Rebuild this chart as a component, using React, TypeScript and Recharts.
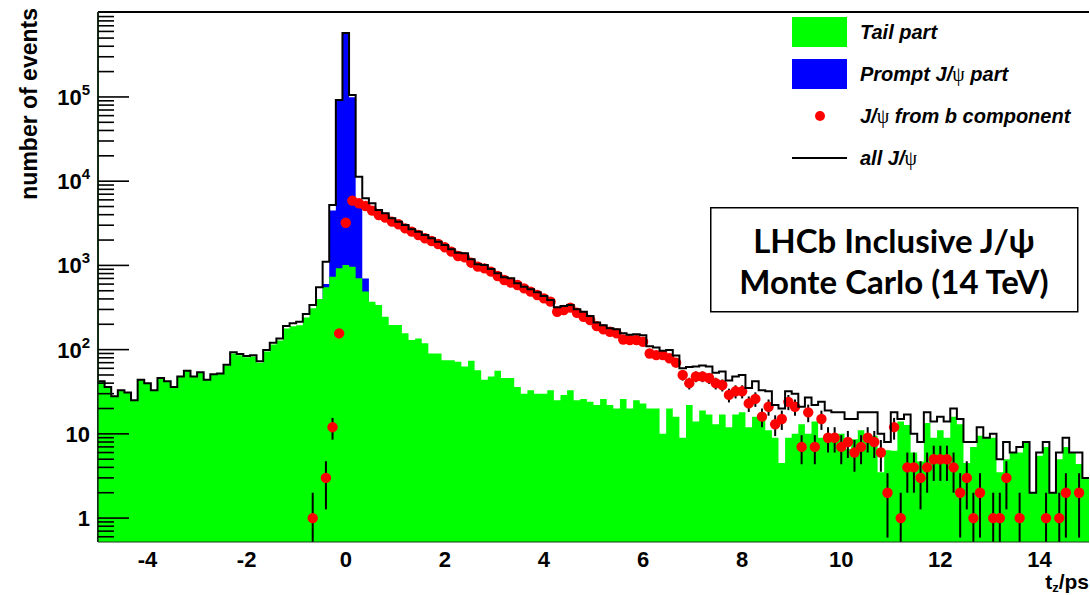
import React from "react";
import {
  Area,
  ComposedChart,
  ErrorBar,
  Label,
  Legend,
  Line,
  ReferenceLine,
  Scatter,
  XAxis,
  YAxis,
} from "recharts";

// histogram: 150 bins of t_z between -5 and 15 ps
const T_MIN = -5;
const T_MAX = 15;
const BIN_W = (T_MAX - T_MIN) / 150;
const Y_MIN = 0.52;
const Y_MAX = 1.02e6;

// "all J/psi" (black outline), one value per bin
const ALL = [
  42, 36, 28, 33, 31, 25, 44, 40, 33, 46,
  42, 36, 48, 56, 48, 54, 44, 51, 52, 66,
  93, 89, 84, 86, 73, 99, 121, 136, 191, 205,
  214, 265, 339, 552, 1105, 5210, 92000, 573000, 105800, 11300,
  6270, 5460, 4550, 4155, 3620, 3305, 3020, 2683, 2517, 2297,
  2099, 1914, 1747, 1552, 1416, 1390, 1181, 1030, 1011, 906,
  806, 722, 702, 612, 559, 520, 479, 433, 388, 318,
  329, 339, 301, 282, 250, 210, 195, 180, 175, 157,
  150, 152, 148, 110, 106, 97, 99, 85, 60, 62,
  63, 65, 63, 53, 55, 43, 48, 50, 35, 42,
  33, 32, 22, 20, 32, 30, 21, 27, 22, 24,
  19, 18, 18, 15, 15, 18, 18, 18, 10, 8,
  18, 15, 17, 10, 8, 18, 14, 16, 14, 20,
  15, 8, 8, 12, 9, 10, 5, 8, 6, 7,
  8, 2, 6, 8, 2, 6, 9, 6, 6, 3,
];

// "Tail part" (green fill)
const TAIL = [
  42, 36, 28, 33, 31, 25, 44, 40, 33, 46,
  42, 36, 48, 56, 48, 54, 44, 51, 52, 65,
  90, 86, 81, 83, 70, 95, 115, 128, 178, 190,
  195, 240, 310, 400, 550, 734, 923, 1010, 965, 703,
  490, 371, 339, 246, 196, 196, 156, 130, 136, 119,
  90, 90, 75, 75, 72, 63, 74, 57, 44, 48,
  56, 46, 46, 36, 30, 33, 30, 30, 33, 25,
  29, 33, 25, 26, 24, 22, 26, 22, 20, 26,
  20, 25, 23, 20, 20, 10, 20, 16, 9, 22,
  14, 19, 17, 13, 17, 12, 17, 18, 12, 16,
  16, 11, 9, 4.5, 9, 10, 13, 10, 14, 9,
  10, 8.5, 10, 6.6, 8.6, 11, 8.5, 9.5, 3.5, 6.4,
  6.3, 14, 12.7, 6, 4.7, 13.5, 9, 11, 9, 16,
  13, 4.5, 7, 9.5, 9, 9, 3.5, 5, 6, 6,
  8, 2, 5.5, 7, 2, 5, 7, 6, 4.4, 3,
];

// "Prompt J/psi part" (blue fill), only the bins around the peak
const PROMPT_FIRST_BIN = 30;
const PROMPT = [19, 25, 29, 150, 600, 4500, 91000, 572000, 99000, 5900, 700, 300];

// "J/psi from b component" (red points), 0 = empty bin
const B_COMPONENT = [
  0, 0, 0, 0, 0, 0, 0, 0, 0, 0,
  0, 0, 0, 0, 0, 0, 0, 0, 0, 0,
  0, 0, 0, 0, 0, 0, 0, 0, 0, 0,
  0, 0, 1, 0, 3, 12, 156, 3210, 5870, 5460,
  5075, 4465, 3970, 3690, 3305, 3075, 2755, 2517, 2297, 2099,
  1950, 1795, 1640, 1456, 1294, 1247, 1077, 966, 923, 843,
  748, 671, 624, 585, 534, 488, 445, 406, 371, 282,
  295, 315, 274, 246, 225, 190, 174, 163, 156, 132,
  130, 130, 124, 90, 86, 86, 79, 70, 50, 40,
  48, 48, 46, 40, 38, 29, 32, 32, 23, 26,
  16, 21, 13, 15, 24, 21, 7, 18, 7, 15,
  9, 9, 7, 8, 6, 7, 9, 8, 6, 2,
  12, 1, 4, 4, 3, 4, 5, 5, 5, 4,
  2, 3, 1, 2, 0, 1, 1, 3, 0, 1,
  0, 0, 0, 1, 0, 1, 2, 0, 2, 0,
];

const X_TICKS = [-4, -2, 0, 2, 4, 6, 8, 10, 12, 14];
const Y_DECADES = [0.1, 1, 10, 100, 1000, 10000, 100000];
const Y_MINOR_STEPS = [2, 3, 4, 5, 6, 7, 8, 9];

const LEGEND_ITEMS = [
  { label: "Tail part", kind: "box", color: "#00ff00" },
  { label: "Prompt J/ψ part", kind: "box", color: "#0000ff" },
  { label: "J/ψ from b component", kind: "dot", color: "#ff0000" },
  { label: "all J/ψ", kind: "line", color: "#000000" },
];

const ROOT_FONT = "'Liberation Sans', Arial, Helvetica, sans-serif";

const edge = (i: number) => T_MIN + i * BIN_W;

// step histograms: one row per bin edge, last edge repeats the last bin
const histRows = Array.from({ length: ALL.length + 1 }, (_, i) => ({
  t: edge(i),
  tail: TAIL[Math.min(i, TAIL.length - 1)],
  all: ALL[Math.min(i, ALL.length - 1)],
}));

const promptRows = Array.from({ length: PROMPT.length + 1 }, (_, k) => ({
  t: edge(PROMPT_FIRST_BIN + k),
  prompt: PROMPT[Math.min(k, PROMPT.length - 1)],
}));

// poisson error bars, lower end clipped at the bottom of the frame
const bRows = B_COMPONENT.map((n, i) => ({
  t: edge(i) + BIN_W / 2,
  b: n,
  err: [n - Math.max(n - Math.sqrt(n), Y_MIN), Math.sqrt(n)],
})).filter((r) => r.b > 0);

const yTicks = Y_DECADES.flatMap((d) => [d, ...Y_MINOR_STEPS.map((s) => s * d)])
  .filter((v) => v >= Y_MIN && v <= Y_MAX)
  .sort((a, b) => a - b);

const YTick = (props: any) => {
  const { x, y, payload } = props;
  const v = payload.value;
  const exp = Math.round(Math.log10(v));
  const major = Math.abs(v - Math.pow(10, exp)) < 1e-6 * v;
  return (
    <g>
      <line x1={x} x2={x + (major ? 31 : 16)} y1={y} y2={y} stroke="#000" strokeWidth={1.6} />
      {major && (
        <text
          x={x - 8}
          y={y + 8}
          textAnchor="end"
          fontFamily={ROOT_FONT}
          fontWeight="bold"
          fontSize={22}
          fill="#000"
        >
          {exp < 2 ? String(v) : "10"}
          {exp >= 2 && (
            <tspan dy={-10} fontSize={15}>
              {exp}
            </tspan>
          )}
        </text>
      )}
    </g>
  );
};

const XTick = (props: any) => {
  const { x, y, payload } = props;
  return (
    <text
      x={x}
      y={y + 25}
      textAnchor="middle"
      fontFamily={ROOT_FONT}
      fontWeight="bold"
      fontSize={22}
      fill="#000"
    >
      {payload.value}
    </text>
  );
};

const XTitle = () => (
  <text x={1089} y={589} textAnchor="end" fontFamily={ROOT_FONT} fontWeight="bold" fontSize={21} fill="#000">
    t
    <tspan fontSize={13} dy={3}>
      z
    </tspan>
    <tspan dy={-3}>/ps</tspan>
  </text>
);

const YTitle = () => (
  <text
    transform="translate(37, 8) rotate(-90)"
    textAnchor="end"
    fontFamily={ROOT_FONT}
    fontWeight="bold"
    fontSize={23}
    fill="#000"
  >
    number of events
  </text>
);

// psi drawn in a thin upright face, like ROOT's symbol font
const withPsi = (label: string) =>
  label.split("ψ").map((part, i) => (
    <React.Fragment key={i}>
      {i > 0 && (
        <tspan fontStyle="normal" fontWeight="normal" fontFamily="'Liberation Serif', serif">
          ψ
        </tspan>
      )}
      {part}
    </React.Fragment>
  ));

const LegendBox = () => (
  <svg width={310} height={175}>
    {LEGEND_ITEMS.map((item, i) => {
      const cy = 32 + i * 42;
      return (
        <g key={item.label}>
          {item.kind === "box" && <rect x={12} y={cy - 15} width={55} height={30} fill={item.color} />}
          {item.kind === "dot" && <circle cx={40} cy={cy} r={5} fill={item.color} />}
          {item.kind === "line" && <line x1={12} x2={67} y1={cy} y2={cy} stroke={item.color} strokeWidth={2} />}
          <text
            x={80}
            y={cy + 7}
            fontFamily={ROOT_FONT}
            fontWeight="bold"
            fontStyle="italic"
            fontSize={20}
            fill="#000"
          >
            {withPsi(item.label)}
          </text>
        </g>
      );
    })}
  </svg>
);

const Dot = (props: any) => <circle cx={props.cx} cy={props.cy} r={5.2} fill="#ff0000" />;

export default function App() {
  return (
    <div style={{ position: "absolute", left: 0, top: 0, width: 1090, height: 595, background: "#fff" }}>
      <ComposedChart
        width={1090}
        height={595}
        data={histRows}
        margin={{ top: 12, right: 1, bottom: 23, left: 8 }}
      >
        <YAxis
          type="number"
          scale="log"
          dataKey="b"
          domain={[Y_MIN, Y_MAX]}
          allowDataOverflow
          ticks={yTicks}
          interval={0}
          width={90}
          tickSize={0}
          tickMargin={0}
          tick={<YTick />}
          tickLine={false}
          axisLine={{ stroke: "#000", strokeWidth: 2 }}
          label={<Label content={<YTitle />} />}
          zIndex={50}
        />
        <Area
          data={promptRows}
          dataKey="prompt"
          type="stepAfter"
          baseValue="dataMin"
          stroke="none"
          fill="#0000ff"
          fillOpacity={1}
          dot={false}
          activeDot={false}
          isAnimationActive={false}
          zIndex={100}
        />
        <Area
          dataKey="tail"
          type="stepAfter"
          baseValue="dataMin"
          stroke="none"
          fill="#00ff00"
          fillOpacity={1}
          dot={false}
          activeDot={false}
          isAnimationActive={false}
          zIndex={100}
        />
        <Scatter
          data={bRows}
          dataKey="b"
          shape={<Dot />}
          isAnimationActive={false}
          zIndex={600}
        >
          <ErrorBar dataKey="err" direction="y" width={0} stroke="#000" strokeWidth={2} isAnimationActive={false} />
        </Scatter>
        <Line
          dataKey="all"
          type="stepAfter"
          stroke="#000"
          strokeWidth={2}
          dot={false}
          activeDot={false}
          isAnimationActive={false}
          zIndex={700}
        />
        <ReferenceLine y={Y_MAX} stroke="#000" strokeWidth={2} zIndex={800} />
        <ReferenceLine x={T_MIN} stroke="#1a3a1a" strokeWidth={1.5} zIndex={800} />
        <XAxis
          type="number"
          dataKey="t"
          domain={[T_MIN, T_MAX]}
          allowDataOverflow
          ticks={X_TICKS}
          interval={0}
          height={30}
          tickSize={0}
          tickMargin={0}
          tick={<XTick />}
          tickLine={false}
          axisLine={{ stroke: "#1a3a1a", strokeWidth: 1 }}
          label={<Label content={<XTitle />} />}
          zIndex={800}
        />
        <Legend
          layout="vertical"
          align="center"
          verticalAlign="middle"
          wrapperStyle={{ left: 780, top: 0, width: 310, height: 175 }}
          content={() => <LegendBox />}
        />
      </ComposedChart>
      <svg
        width={369}
        height={106}
        style={{ position: "absolute", left: 710, top: 207 }}
      >
        <rect x={0.75} y={0.75} width={367} height={104} fill="#fff" stroke="#000" strokeWidth={1.5} />
        <text x={184} y={46} textAnchor="middle" fontFamily="Lato, 'Open Sans', sans-serif" fontWeight="bold" fontSize={33} fill="#000">
          LHCb Inclusive J/ψ
        </text>
        <text x={184} y={87} textAnchor="middle" fontFamily="Lato, 'Open Sans', sans-serif" fontWeight="bold" fontSize={33} fill="#000">
          Monte Carlo (14 TeV)
        </text>
      </svg>
    </div>
  );
}
